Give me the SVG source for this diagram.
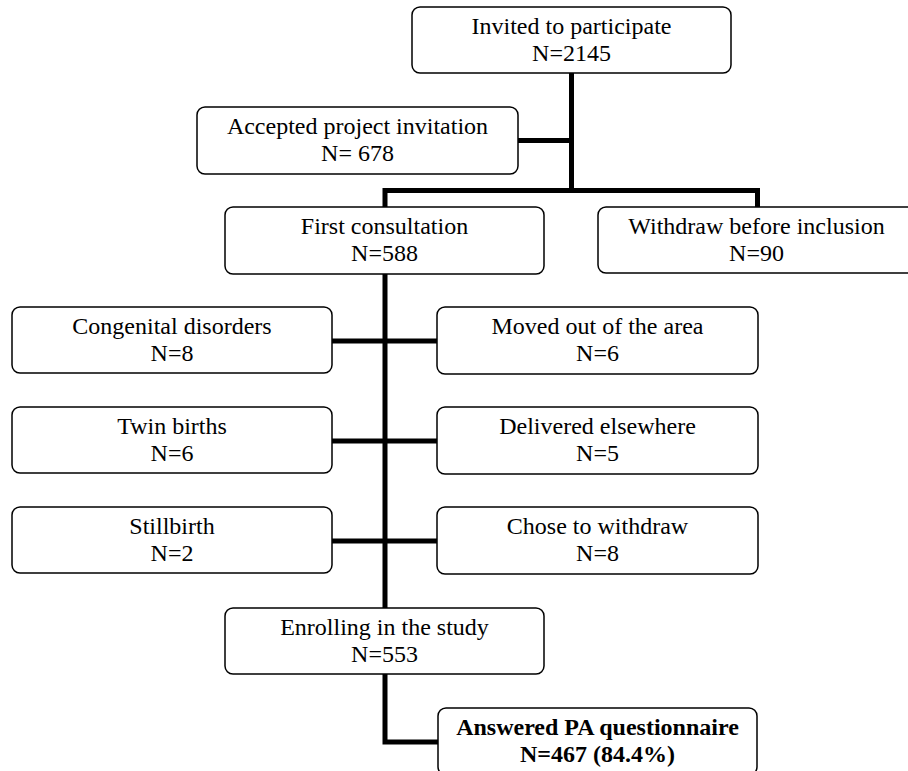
<svg xmlns="http://www.w3.org/2000/svg" width="908" height="771" viewBox="0 0 908 771">
<style>
.box{fill:#fff;stroke:#000;stroke-width:1.5}
text{font-family:'Liberation Serif','Times New Roman',Times,serif;font-size:24px;fill:#000;text-anchor:middle}
.b{font-weight:bold}
.c{fill:none;stroke:#000;stroke-width:5;stroke-linejoin:miter;stroke-linecap:butt}
</style>
<rect width="908" height="771" fill="#fff"/>
<g id="connectors">
<path class="c" d="M571.5 73 V190.5"/>
<path class="c" d="M518 140.5 H571.5"/>
<path class="c" d="M385 207 V190.5 H757.5 V207"/>
<path class="c" d="M385 274 V608"/>
<path class="c" d="M332 341 H437"/>
<path class="c" d="M332 441 H437"/>
<path class="c" d="M332 541 H437"/>
<path class="c" d="M385 674 V742 H438"/>
</g>
<g font-family="Liberation Serif, Times New Roman, serif">
<g id="invited">
<rect class="box" x="412" y="7" width="319" height="66" rx="8"/>
<text x="571.5" y="34">Invited to participate</text>
<text x="571.5" y="61">N=2145</text>
</g>
<g id="accepted">
<rect class="box" x="197" y="107" width="321" height="67" rx="8"/>
<text x="357.5" y="134">Accepted project invitation</text>
<text x="357.5" y="161">N= 678</text>
</g>
<g id="first">
<rect class="box" x="225" y="207" width="319" height="67" rx="8"/>
<text x="384.5" y="234">First consultation</text>
<text x="384.5" y="261">N=588</text>
</g>
<g id="withdraw">
<rect class="box" x="598" y="207" width="319" height="66" rx="8"/>
<text x="756.5" y="234">Withdraw before inclusion</text>
<text x="756.5" y="261">N=90</text>
</g>
<g id="congenital">
<rect class="box" x="12" y="307" width="320" height="66" rx="8"/>
<text x="172" y="334">Congenital disorders</text>
<text x="172" y="361">N=8</text>
</g>
<g id="moved">
<rect class="box" x="437" y="307" width="321" height="67" rx="8"/>
<text x="597.5" y="334">Moved out of the area</text>
<text x="597.5" y="361">N=6</text>
</g>
<g id="twin">
<rect class="box" x="12" y="407" width="320" height="66" rx="8"/>
<text x="172" y="434">Twin births</text>
<text x="172" y="461">N=6</text>
</g>
<g id="delivered">
<rect class="box" x="437" y="407" width="321" height="67" rx="8"/>
<text x="597.5" y="434">Delivered elsewhere</text>
<text x="597.5" y="461">N=5</text>
</g>
<g id="stillbirth">
<rect class="box" x="12" y="507" width="320" height="66" rx="8"/>
<text x="172" y="534">Stillbirth</text>
<text x="172" y="561">N=2</text>
</g>
<g id="chose">
<rect class="box" x="437" y="507" width="321" height="67" rx="8"/>
<text x="597.5" y="534">Chose to withdraw</text>
<text x="597.5" y="561">N=8</text>
</g>
<g id="enrolling">
<rect class="box" x="225" y="608" width="319" height="66" rx="8"/>
<text x="384.5" y="635">Enrolling in the study</text>
<text x="384.5" y="662">N=553</text>
</g>
<g id="answered">
<rect class="box" x="438" y="708" width="319" height="67" rx="8"/>
<text class="b" x="597.5" y="735">Answered PA questionnaire</text>
<text class="b" x="597.5" y="762">N=467 (84.4%)</text>
</g>
</g>
</svg>
